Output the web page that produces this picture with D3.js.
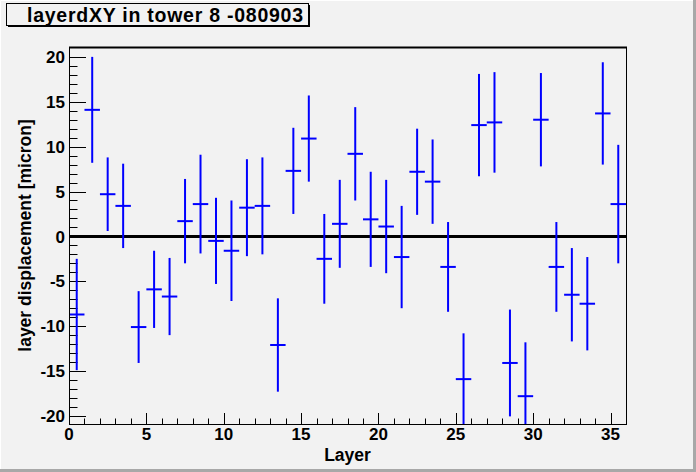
<!DOCTYPE html>
<meta charset="utf-8">
<script src="https://d3js.org/d3.v7.min.js"></script>
<style>
  body { margin: 0; background: #f2f2f2; }
  text { font-family: "Liberation Sans", Arial, sans-serif; font-weight: bold; fill: #000; }
</style>
<div id="my_dataviz"></div>
<script>
// Data: layer (bin centre), displacement and its error
var layers = [0.5, 1.5, 2.5, 3.5, 4.5, 5.5, 6.5, 7.5, 8.5, 9.5, 10.5, 11.5,
              12.5, 13.5, 14.5, 15.5, 16.5, 17.5, 18.5, 19.5, 20.5, 21.5, 22.5, 23.5,
              24.5, 25.5, 26.5, 27.5, 28.5, 29.5, 30.5, 31.5, 32.5, 33.5, 34.5, 35.5];
var displacement = [-8.7, 14.1, 4.7, 3.4, -10.1, -5.9, -6.7, 1.7, 3.6, -0.5, -1.6, 3.2,
                    3.4, -12.1, 7.3, 10.9, -2.5, 1.4, 9.2, 1.9, 1.1, -2.3, 7.2, 6.1,
                    -3.4, -15.9, 12.4, 12.7, -14.1, -17.8, 13.0, -3.4, -6.5, -7.5, 13.7, 3.6];
var error = [6.2, 5.9, 4.1, 4.7, 4.0, 4.3, 4.3, 4.7, 5.5, 4.8, 5.6, 5.4,
             5.4, 5.2, 4.8, 4.8, 5.0, 4.9, 5.2, 5.3, 5.2, 5.7, 4.8, 4.7,
             5.0, 5.1, 5.7, 5.6, 5.95, 6.0, 5.2, 5.0, 5.2, 5.2, 5.7, 6.6];
var xTicks = [0, 5, 10, 15, 20, 25, 30, 35];
var yTicks = [-20, -15, -10, -5, 0, 5, 10, 15, 20];

var data = layers.map(function(l, i) { return {x: l, y: displacement[i], e: error[i]}; });

var W = 696, H = 472;
var margin = {top: 47, right: 70, bottom: 48, left: 69},
    width = W - margin.left - margin.right,
    height = H - margin.top - margin.bottom;

var root = d3.select("#my_dataviz")
  .append("svg")
    .attr("width", W)
    .attr("height", H);

// canvas background with ROOT-like bevel
root.append("rect").attr("width", W).attr("height", H).attr("fill", "#f2f2f2");
root.append("path").attr("d", "M0.5," + (H - 2) + "V0.5H" + (W - 2))
  .attr("stroke", "#fff").attr("fill", "none");
root.append("path").attr("d", "M" + (W - 1.5) + ",0V" + (H - 1.5) + "H0")
  .attr("stroke", "#a8a8a8").attr("stroke-width", 3).attr("fill", "none");

// title box with shadow
root.append("rect").attr("x", 8).attr("y", 5).attr("width", 302).attr("height", 22).attr("fill", "#000");
root.append("rect").attr("x", 6.5).attr("y", 3.5).attr("width", 302).attr("height", 22)
  .attr("fill", "#f2f2f2").attr("stroke", "#000");
root.append("text").attr("x", 27).attr("y", 21.5)
  .style("font-size", "19.5px").style("letter-spacing", "0.75px")
  .text("layerdXY in tower 8 -080903");

var svg = root.append("g")
  .attr("transform", "translate(" + margin.left + "," + margin.top + ")");

var x = d3.scaleLinear().domain([0, 36]).range([0, width]);
var y = d3.scaleLinear().domain([-20.9, 21.1]).range([height, 0]);

svg.append("clipPath").attr("id", "clip")
  .append("rect").attr("width", width).attr("height", height);

// minor + major ticks (drawn inside the frame, ROOT style)
var yMinor = d3.range(-20, 21, 1);
svg.selectAll("ytick")
  .data(yMinor)
  .enter()
  .append("line")
    .attr("x1", 0)
    .attr("x2", function(d) { return d % 5 === 0 ? 17 : 8.5; })
    .attr("y1", function(d) { return Math.round(y(d)) + 0.5; })
    .attr("y2", function(d) { return Math.round(y(d)) + 0.5; })
    .attr("stroke", "#000");

var xMinor = d3.range(0, 37, 1);
svg.selectAll("xtick")
  .data(xMinor)
  .enter()
  .append("line")
    .attr("x1", function(d) { return Math.round(x(d)) + 0.5; })
    .attr("x2", function(d) { return Math.round(x(d)) + 0.5; })
    .attr("y1", height)
    .attr("y2", function(d) { return d % 5 === 0 ? height - 11 : height - 5.5; })
    .attr("stroke", "#000");

// tick labels
svg.selectAll("ylab")
  .data(yTicks)
  .enter()
  .append("text")
    .attr("x", -4)
    .attr("y", function(d) { return y(d); })
    .attr("dy", "0.36em")
    .style("text-anchor", "end")
    .style("font-size", "17px")
    .text(function(d) { return d; });

svg.selectAll("xlab")
  .data(xTicks)
  .enter()
  .append("text")
    .attr("x", function(d) { return x(d); })
    .attr("y", height + 16)
    .style("text-anchor", "middle")
    .style("font-size", "17px")
    .text(function(d) { return d; });

// axis titles
svg.append("text")
  .attr("x", width / 2)
  .attr("y", height + 37)
  .style("text-anchor", "middle")
  .style("font-size", "17.5px")
  .text("Layer");

svg.append("text")
  .attr("transform", "translate(" + (31 - margin.left) + "," + (height / 2) + ")rotate(-90)")
  .style("text-anchor", "middle")
  .style("font-size", "17.5px")
  .text("layer displacement [micron]");

// zero line
svg.append("line")
  .attr("x1", 0).attr("x2", width)
  .attr("y1", y(0)).attr("y2", y(0))
  .attr("stroke", "#000").attr("stroke-width", 3);

// error bars
var marks = svg.append("g").attr("clip-path", "url(#clip)");

marks.selectAll("vbar")
  .data(data)
  .enter()
  .append("line")
    .attr("x1", function(d) { return x(d.x); })
    .attr("x2", function(d) { return x(d.x); })
    .attr("y1", function(d) { return y(d.y + d.e); })
    .attr("y2", function(d) { return y(d.y - d.e); })
    .attr("stroke", "#0000ff")
    .attr("stroke-width", 2);

marks.selectAll("hbar")
  .data(data)
  .enter()
  .append("line")
    .attr("x1", function(d) { return x(d.x - 0.5); })
    .attr("x2", function(d) { return x(d.x + 0.5); })
    .attr("y1", function(d) { return y(d.y); })
    .attr("y2", function(d) { return y(d.y); })
    .attr("stroke", "#0000ff")
    .attr("stroke-width", 2);

// frame
svg.append("rect")
  .attr("x", 0.5).attr("y", 0.5)
  .attr("width", width).attr("height", height)
  .attr("fill", "none").attr("stroke", "#000");
svg.append("line")
  .attr("x1", 0).attr("x2", width + 1).attr("y1", 0.5).attr("y2", 0.5)
  .attr("stroke", "#000").attr("stroke-width", 2);
</script>
